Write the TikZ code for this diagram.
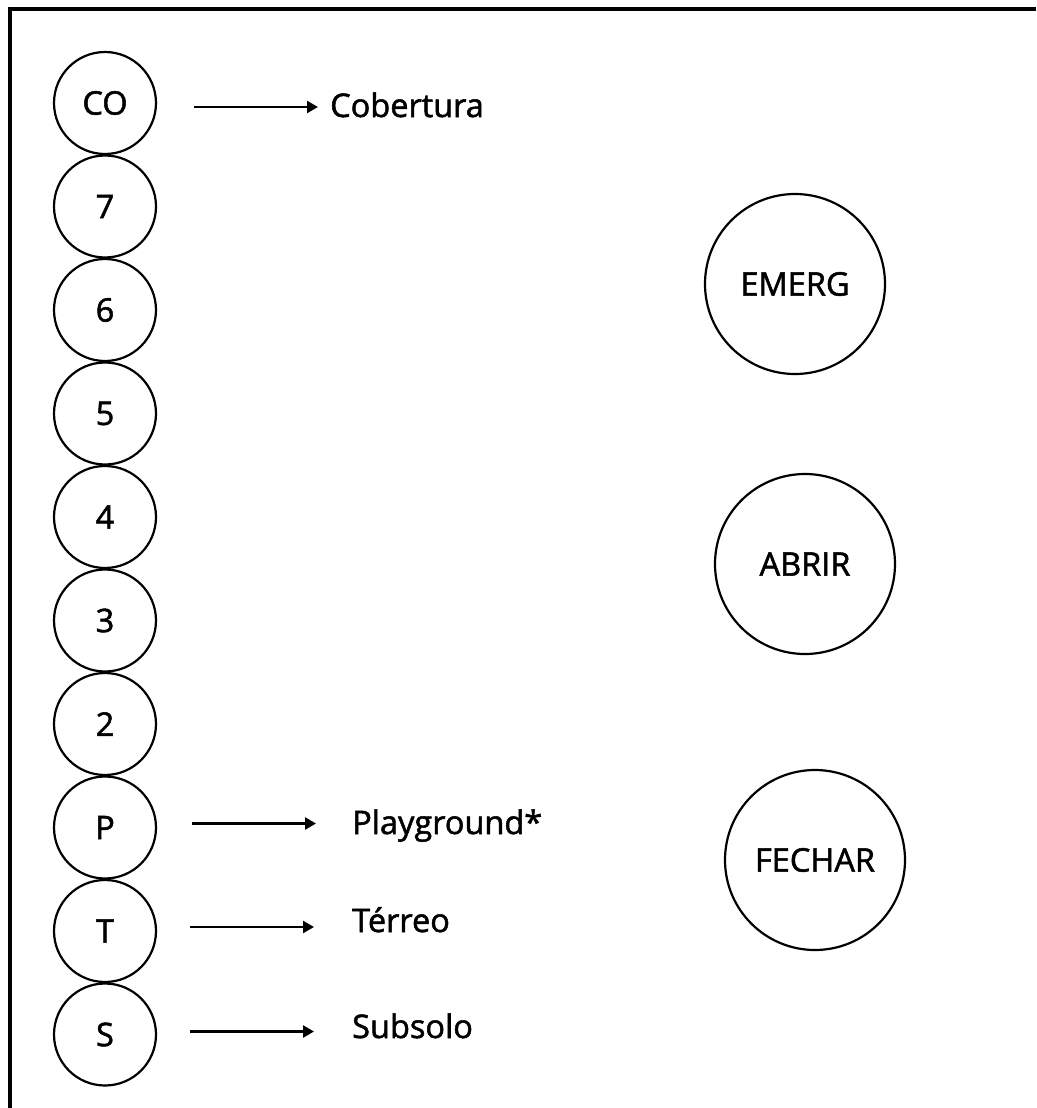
\documentclass[tikz,border=0pt]{standalone}
\usepackage{fontspec}
\setmainfont{Open Sans}[FakeBold=1.6,AutoFakeBold=1.6]
\usetikzlibrary{arrows.meta}
\tikzset{
  txt/.style={font=\fontsize{32.5}{32.5}\selectfont\bfseries},
  floor/.style={circle, draw, line width=2.2pt, minimum size=102pt, inner sep=0pt, txt},
  bigbtn/.style={circle, draw, line width=2.2pt, minimum size=180pt, inner sep=0pt, txt},
  lbl/.style={anchor=base west, inner sep=0pt, txt},
  arr/.style={line width=2.4pt, -{Triangle[length=11pt,width=12pt]}}
}
\begin{document}
\begin{tikzpicture}[x=1pt,y=-1pt]
\useasboundingbox (0,0) rectangle (1036,1108);
\draw[line width=4pt] (10,1108) -- (10,9) -- (1036,9);
\node[floor] (co) at (105,103) {CO};
\node[floor] (f7) at (105,206.5) {7};
\node[floor] (f6) at (105,310) {6};
\node[floor] (f5) at (105,413.5) {5};
\node[floor] (f4) at (105,517) {4};
\node[floor] (f3) at (105,620.5) {3};
\node[floor] (f2) at (105,724) {2};
\node[floor] (fp) at (105,827.5) {P};
\node[floor] (ft) at (105,931) {T};
\node[floor] (fs) at (105,1034.5) {S};
\node[bigbtn] (emerg) at (795,284) {EMERG};
\node[bigbtn] (abrir) at (805,564) {ABRIR};
\node[bigbtn] (fechar) at (815,860) {FECHAR};
\node[lbl] (cob) at (330,117) {Cobertura};
\node[lbl] (play) at (352,834) {Playground*};
\node[lbl] (ter) at (352,932) {Térreo};
\node[lbl] (sub) at (352,1038) {Subsolo};
\draw[arr] ([xshift=37pt,yshift=-4pt]co.east) -- ([xshift=-12pt,yshift=-4pt]co.east -| cob.west);
\draw[arr] ([xshift=35pt,yshift=4pt]fp.east) -- ([xshift=-36pt,yshift=4pt]fp.east -| play.west);
\draw[arr] ([xshift=33pt,yshift=4pt]ft.east) -- ([xshift=-38pt,yshift=4pt]ft.east -| ter.west);
\draw[arr] ([xshift=33pt,yshift=3pt]fs.east) -- ([xshift=-38pt,yshift=3pt]fs.east -| sub.west);
\end{tikzpicture}
\end{document}
